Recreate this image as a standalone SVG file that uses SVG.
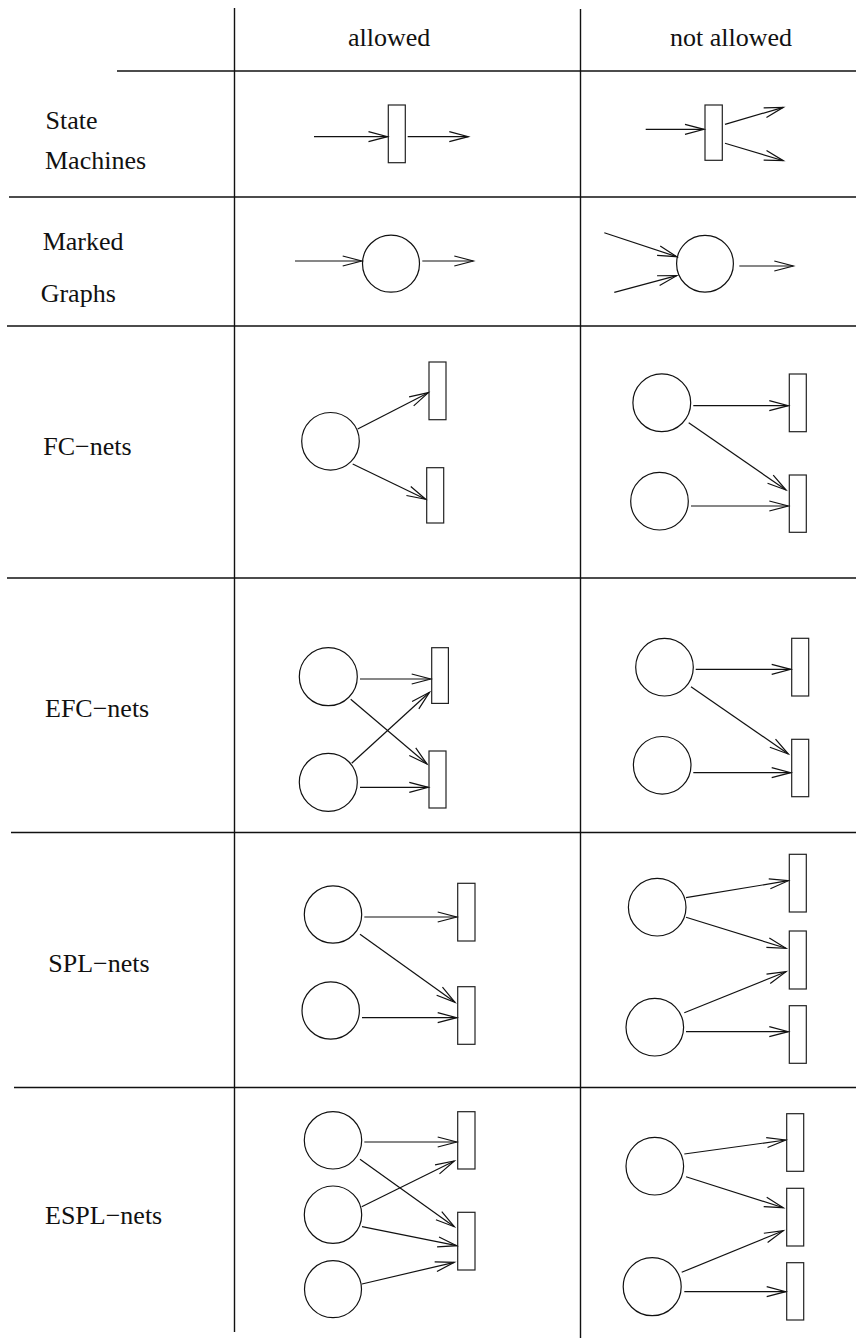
<svg xmlns="http://www.w3.org/2000/svg" width="856" height="1338" viewBox="0 0 856 1338">
<style>
  .grid { stroke:#111; stroke-width:1.4; fill:none; }
  .place { fill:#fff; stroke:#111; stroke-width:1.2; }
  .trans { fill:#fff; stroke:#222; stroke-width:1.2; }
  .arc { stroke:#111; stroke-width:1.2; fill:none; marker-end:url(#ah); }
  .lbl { font-size:26px; fill:#111; }
</style>
<defs>
  <marker id="ah" markerUnits="userSpaceOnUse" viewBox="-21 -7 23 14" refX="0" refY="0" markerWidth="23" markerHeight="14" orient="auto" overflow="visible">
    <path d="M-19,-5 L0,0 L-19,5" fill="none" stroke="#111" stroke-width="1.2"/>
  </marker>
</defs>
<rect width="856" height="1338" fill="#fff"/>
<g id="table">
  <line class="grid" x1="234.5" y1="8" x2="234.5" y2="1332"/>
  <line class="grid" x1="580.5" y1="9" x2="580.5" y2="1338"/>
  <line class="grid" x1="117" y1="71" x2="856" y2="71"/>
  <line class="grid" x1="9" y1="197" x2="856" y2="197"/>
  <line class="grid" x1="7" y1="326" x2="856" y2="326"/>
  <line class="grid" x1="7" y1="578" x2="856" y2="578"/>
  <line class="grid" x1="11" y1="832.5" x2="856" y2="832.5"/>
  <line class="grid" x1="14" y1="1087.5" x2="856" y2="1087.5"/>
</g>
<g id="labels" font-family="'Liberation Serif', 'Times New Roman', 'DejaVu Serif', serif">
  <text class="lbl" x="348" y="45.5">allowed</text>
  <text class="lbl" x="670" y="45.5">not allowed</text>
  <text class="lbl" x="45.5" y="129">State</text>
  <text class="lbl" x="45" y="168.5">Machines</text>
  <text class="lbl" x="42.7" y="250">Marked</text>
  <text class="lbl" x="40.7" y="302">Graphs</text>
  <text class="lbl" x="43.3" y="455">FC−nets</text>
  <text class="lbl" x="45" y="717">EFC−nets</text>
  <text class="lbl" x="48.3" y="972">SPL−nets</text>
  <text class="lbl" x="45" y="1224">ESPL−nets</text>
</g>
<!-- State machines -->
<g id="sm-a-t"><rect class="trans" x="388.3" y="105" width="17" height="57.7"/></g>
<g id="sm-n-t"><rect class="trans" x="705" y="105" width="17.3" height="55.3"/></g>
<!-- Marked graphs -->
<g id="mg-a-p"><circle class="place" cx="391" cy="263.7" r="28.5"/></g>
<g id="mg-n-p"><circle class="place" cx="705" cy="263.7" r="28.4"/></g>
<!-- FC allowed -->
<g id="fc-a-p1"><circle class="place" cx="330.5" cy="441.3" r="28.8"/></g>
<g id="fc-a-t1"><rect class="trans" x="429" y="362" width="17" height="57.7"/></g>
<g id="fc-a-t2"><rect class="trans" x="426.7" y="467.7" width="17" height="55.3"/></g>
<!-- FC not allowed -->
<g id="fc-n-p1"><circle class="place" cx="661.8" cy="402.8" r="28.9"/></g>
<g id="fc-n-p2"><circle class="place" cx="659.5" cy="501.2" r="28.8"/></g>
<g id="fc-n-t1"><rect class="trans" x="789.3" y="374" width="17" height="57.7"/></g>
<g id="fc-n-t2"><rect class="trans" x="789.3" y="475" width="17" height="57.3"/></g>
<!-- EFC allowed -->
<g id="efc-a-p1"><circle class="place" cx="328.3" cy="676.7" r="29"/></g>
<g id="efc-a-p2"><circle class="place" cx="328.3" cy="782.3" r="29"/></g>
<g id="efc-a-t1"><rect class="trans" x="431.7" y="647.7" width="16.7" height="55.7"/></g>
<g id="efc-a-t2"><rect class="trans" x="429" y="751" width="17" height="57"/></g>
<!-- EFC not allowed -->
<g id="efc-n-p1"><circle class="place" cx="664.5" cy="667.2" r="28.8"/></g>
<g id="efc-n-p2"><circle class="place" cx="662.2" cy="765.3" r="28.8"/></g>
<g id="efc-n-t1"><rect class="trans" x="791.7" y="638.3" width="17" height="57.7"/></g>
<g id="efc-n-t2"><rect class="trans" x="791.7" y="739.3" width="17" height="57.4"/></g>
<!-- SPL allowed -->
<g id="spl-a-p1"><circle class="place" cx="333" cy="914.5" r="28.7"/></g>
<g id="spl-a-p2"><circle class="place" cx="330.7" cy="1010.5" r="28.7"/></g>
<g id="spl-a-t1"><rect class="trans" x="457.7" y="883.3" width="17.3" height="57.7"/></g>
<g id="spl-a-t2"><rect class="trans" x="457.7" y="986.7" width="17.3" height="57.6"/></g>
<!-- SPL not allowed -->
<g id="spl-n-p1"><circle class="place" cx="657.2" cy="907.2" r="28.8"/></g>
<g id="spl-n-p2"><circle class="place" cx="654.8" cy="1027.2" r="28.8"/></g>
<g id="spl-n-t1"><rect class="trans" x="789.3" y="854.3" width="17" height="57.7"/></g>
<g id="spl-n-t2"><rect class="trans" x="789.3" y="931" width="17" height="58"/></g>
<g id="spl-n-t3"><rect class="trans" x="789.3" y="1005.7" width="17" height="57.6"/></g>
<!-- ESPL allowed -->
<g id="espl-a-p1"><circle class="place" cx="333" cy="1140.3" r="28.7"/></g>
<g id="espl-a-p2"><circle class="place" cx="333" cy="1214.7" r="28.7"/></g>
<g id="espl-a-p3"><circle class="place" cx="333" cy="1289.2" r="28.5"/></g>
<g id="espl-a-t1"><rect class="trans" x="457.7" y="1111.7" width="17.3" height="57.3"/></g>
<g id="espl-a-t2"><rect class="trans" x="457.7" y="1212.3" width="17.3" height="57.7"/></g>
<!-- ESPL not allowed -->
<g id="espl-n-p1"><circle class="place" cx="654.8" cy="1166.2" r="28.8"/></g>
<g id="espl-n-p2"><circle class="place" cx="652.2" cy="1286.7" r="29"/></g>
<g id="espl-n-t1"><rect class="trans" x="786.7" y="1113.7" width="17" height="57.6"/></g>
<g id="espl-n-t2"><rect class="trans" x="786.7" y="1188.3" width="17" height="57.7"/></g>
<g id="espl-n-t3"><rect class="trans" x="786.7" y="1262.7" width="17" height="57.3"/></g>
<g id="connectors">
  <line class="arc" x1="314" y1="136.7" x2="387.5" y2="136.7"/>
  <line class="arc" x1="407.7" y1="136.7" x2="468.3" y2="136.7"/>
  <line class="arc" x1="645.7" y1="129.3" x2="704" y2="129.3"/>
  <line class="arc" x1="725" y1="124.3" x2="783.3" y2="107.3"/>
  <line class="arc" x1="725" y1="143.3" x2="783.3" y2="160.7"/>
  <line class="arc" x1="295" y1="261" x2="361.7" y2="261"/>
  <line class="arc" x1="422.3" y1="261" x2="473.3" y2="261"/>
  <line class="arc" x1="604.3" y1="232.7" x2="676.7" y2="256.7"/>
  <line class="arc" x1="614.3" y1="292.3" x2="676.7" y2="275.7"/>
  <line class="arc" x1="739.3" y1="266" x2="793.3" y2="266"/>
  <line class="arc" x1="357.7" y1="429" x2="428.3" y2="392.7"/>
  <line class="arc" x1="352.7" y1="464" x2="425.7" y2="499.3"/>
  <line class="arc" x1="693.3" y1="405.7" x2="788.3" y2="405.7"/>
  <line class="arc" x1="688.7" y1="422.7" x2="786" y2="490"/>
  <line class="arc" x1="691" y1="506" x2="788.3" y2="506"/>
  <line class="arc" x1="360" y1="679" x2="430.7" y2="679"/>
  <line class="arc" x1="350.7" y1="699.3" x2="427" y2="764"/>
  <line class="arc" x1="351.7" y1="763.3" x2="429.5" y2="692.3"/>
  <line class="arc" x1="360" y1="787.3" x2="428.3" y2="787.3"/>
  <line class="arc" x1="695.7" y1="669.3" x2="790.7" y2="669.3"/>
  <line class="arc" x1="691" y1="686.7" x2="788.3" y2="754"/>
  <line class="arc" x1="693.3" y1="772.7" x2="790.7" y2="772.7"/>
  <line class="arc" x1="364.3" y1="917" x2="456.7" y2="917"/>
  <line class="arc" x1="360" y1="934.3" x2="455" y2="1002.3"/>
  <line class="arc" x1="362" y1="1017.7" x2="456.7" y2="1017.7"/>
  <line class="arc" x1="686" y1="897.7" x2="788.3" y2="880.7"/>
  <line class="arc" x1="686" y1="917.3" x2="786" y2="948.3"/>
  <line class="arc" x1="684.3" y1="1012.7" x2="786" y2="971.7"/>
  <line class="arc" x1="686" y1="1031.7" x2="788.3" y2="1031.7"/>
  <line class="arc" x1="364.3" y1="1142" x2="456.7" y2="1142"/>
  <line class="arc" x1="360" y1="1159.3" x2="454.3" y2="1226.7"/>
  <line class="arc" x1="361.7" y1="1206.7" x2="454.3" y2="1161"/>
  <line class="arc" x1="362" y1="1226.7" x2="456.7" y2="1245.7"/>
  <line class="arc" x1="362" y1="1284" x2="454.3" y2="1262.3"/>
  <line class="arc" x1="684.3" y1="1154" x2="785.7" y2="1140"/>
  <line class="arc" x1="686" y1="1176.7" x2="783.3" y2="1207.7"/>
  <line class="arc" x1="681.7" y1="1272.3" x2="783.3" y2="1230.7"/>
  <line class="arc" x1="684.3" y1="1291.7" x2="785.7" y2="1291.7"/>
</g>
</svg>
